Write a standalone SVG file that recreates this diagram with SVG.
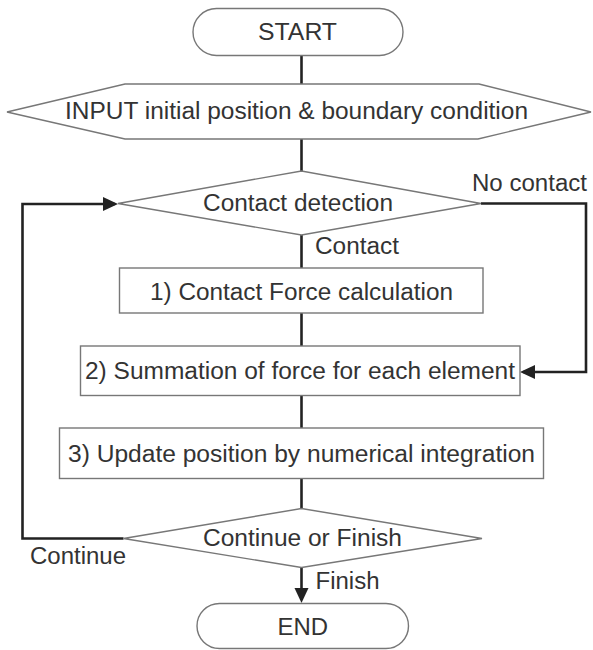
<svg xmlns="http://www.w3.org/2000/svg" width="593" height="650" viewBox="0 0 593 650">
<style>
.shape{fill:#fff;stroke:#777;stroke-width:1.4}
.conn{fill:none;stroke:#222;stroke-width:2.6}
text{font-family:"Liberation Sans",Arial,sans-serif;font-size:23px;fill:#333}
.c{text-anchor:middle}
</style>
<defs>
<marker id="arr" markerUnits="userSpaceOnUse" markerWidth="16" markerHeight="16" refX="12" refY="7" orient="auto" viewBox="0 0 16 14">
<path d="M0,0 L15,7 L0,14 z" fill="#222"/>
</marker>
</defs>
<rect width="593" height="650" fill="#fff"/>
<g id="connectors">
<line class="conn" x1="301.5" y1="55" x2="301.5" y2="84"/>
<line class="conn" x1="301.5" y1="139" x2="301.5" y2="171"/>
<line class="conn" x1="301.5" y1="235" x2="301.5" y2="268"/>
<line class="conn" x1="301.5" y1="313" x2="301.5" y2="346"/>
<line class="conn" x1="301.5" y1="395.5" x2="301.5" y2="428"/>
<line class="conn" x1="301.5" y1="478.5" x2="301.5" y2="508.5"/>
<path class="conn" d="M301.5,567.5 L301.5,600" marker-end="url(#arr)"/>
<path class="conn" d="M481,203.5 L586,203.5 L586,372 L523,372" marker-end="url(#arr)"/>
<path class="conn" d="M123.5,538.5 L22.5,538.5 L22.5,204 L115,204" marker-end="url(#arr)"/>
<text x="472" y="191" textLength="115" lengthAdjust="spacingAndGlyphs">No contact</text>
<text x="315" y="254" textLength="84" lengthAdjust="spacingAndGlyphs">Contact</text>
<text x="30" y="564" textLength="96" lengthAdjust="spacingAndGlyphs">Continue</text>
<text x="315.5" y="589" textLength="64" lengthAdjust="spacingAndGlyphs">Finish</text>
</g>
<g id="start">
<rect class="shape" x="193" y="8.5" width="210" height="47" rx="23.5"/>
<text x="258" y="39.5" textLength="79" lengthAdjust="spacingAndGlyphs">START</text>
</g>
<g id="input">
<polygon class="shape" points="7,112 125,84 479,84 591,112 478,139 125,139"/>
<text x="65" y="119" textLength="463" lengthAdjust="spacingAndGlyphs">INPUT initial position &amp; boundary condition</text>
</g>
<g id="contact-detection">
<polygon class="shape" points="118,203.5 301.5,171 481,203.5 301.5,235"/>
<text x="203" y="211" textLength="190" lengthAdjust="spacingAndGlyphs">Contact detection</text>
</g>
<g id="step1">
<rect class="shape" x="119.5" y="268" width="363.5" height="45"/>
<text x="150" y="299.5" textLength="303" lengthAdjust="spacingAndGlyphs">1) Contact Force calculation</text>
</g>
<g id="step2">
<rect class="shape" x="80.5" y="346" width="439.5" height="49.5"/>
<text x="85" y="378.5" textLength="430" lengthAdjust="spacingAndGlyphs">2) Summation of force for each element</text>
</g>
<g id="step3">
<rect class="shape" x="59.5" y="428" width="484" height="50.5"/>
<text x="68" y="462" textLength="467" lengthAdjust="spacingAndGlyphs">3) Update position by numerical integration</text>
</g>
<g id="continue-finish">
<polygon class="shape" points="123.5,538.5 301.5,508.5 482,538.5 301.5,567.5"/>
<text x="203" y="546" textLength="199" lengthAdjust="spacingAndGlyphs">Continue or Finish</text>
</g>
<g id="end">
<rect class="shape" x="197" y="603.5" width="211.5" height="45" rx="22.5"/>
<text x="277.5" y="635" textLength="50.5" lengthAdjust="spacingAndGlyphs">END</text>
</g>
</svg>
